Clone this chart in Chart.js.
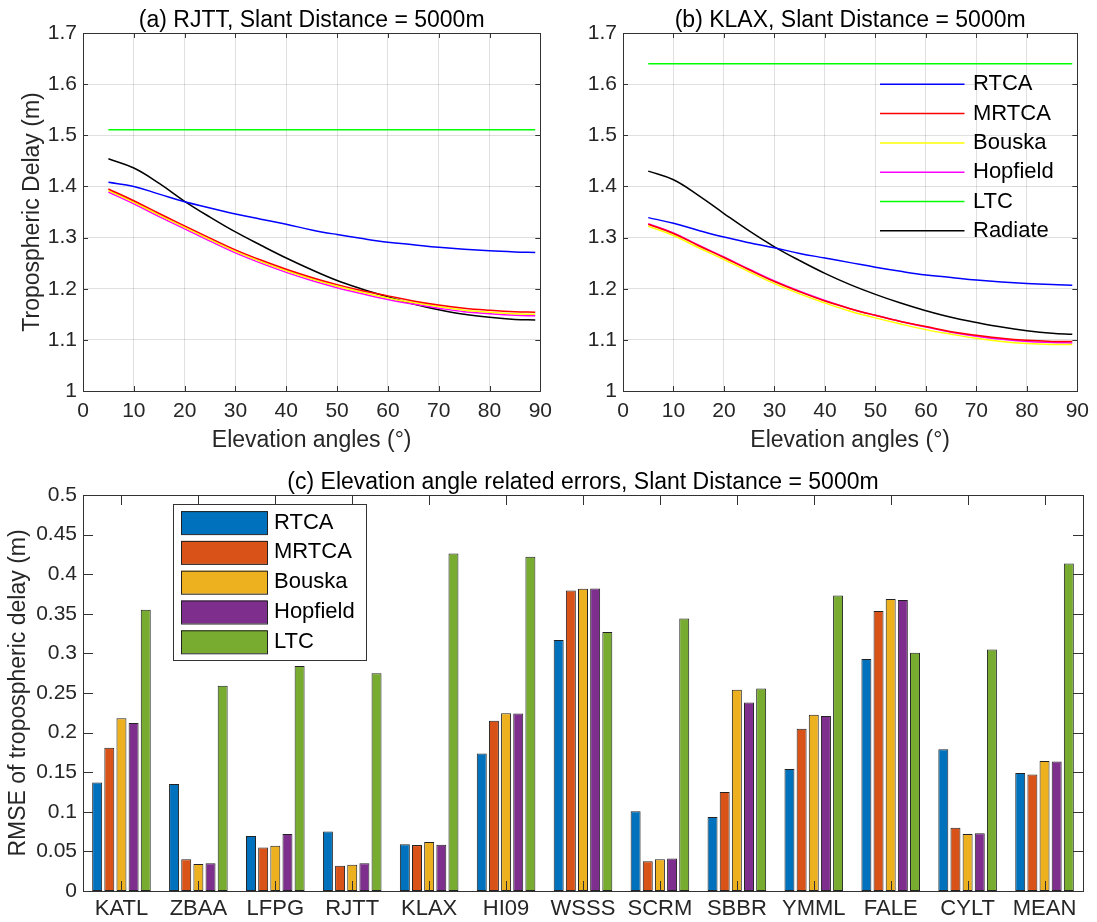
<!DOCTYPE html>
<html>
<head>
<meta charset="utf-8">
<script src="https://cdn.jsdelivr.net/npm/chart.js@4.4.1/dist/chart.umd.min.js"></script>
<style>
  html, body { margin: 0; padding: 0; background: #fff; }
  body { width: 1097px; height: 922px; position: relative; overflow: hidden; }
  canvas { position: absolute; }
</style>
</head>
<body>
<canvas id="chartA" width="560" height="460" style="left:0;top:0;width:560px;height:460px"></canvas>
<canvas id="chartB" width="537" height="460" style="left:560px;top:0;width:537px;height:460px"></canvas>
<canvas id="chartC" width="1097" height="462" style="left:0;top:460px;width:1097px;height:462px"></canvas>
<script>
// elevation angles (deg)
const elev = [5, 10, 15, 20, 25, 30, 35, 40, 45, 50, 55, 60, 65, 70, 75, 80, 85, 89];

// (a) RJTT tropospheric delay (m)
const rtcaA     = [1.408, 1.400, 1.385, 1.370, 1.358, 1.346, 1.336, 1.326, 1.315, 1.306, 1.298, 1.291, 1.286, 1.281, 1.277, 1.274, 1.272, 1.271];
const mrtcaA    = [1.395, 1.372, 1.347, 1.323, 1.299, 1.276, 1.256, 1.238, 1.222, 1.208, 1.196, 1.186, 1.176, 1.168, 1.162, 1.158, 1.155, 1.154];
const bouskaA   = [1.392, 1.369, 1.344, 1.320, 1.296, 1.273, 1.253, 1.235, 1.219, 1.205, 1.193, 1.182, 1.173, 1.165, 1.158, 1.154, 1.151, 1.150];
const hopfieldA = [1.389, 1.366, 1.341, 1.317, 1.293, 1.270, 1.250, 1.232, 1.216, 1.202, 1.190, 1.179, 1.170, 1.162, 1.155, 1.151, 1.148, 1.147];
const ltcA      = [1.511, 1.511, 1.511, 1.511, 1.511, 1.511, 1.511, 1.511, 1.511, 1.511, 1.511, 1.511, 1.511, 1.511, 1.511, 1.511, 1.511, 1.511];
const radiateA  = [1.454, 1.436, 1.406, 1.371, 1.340, 1.311, 1.285, 1.260, 1.237, 1.216, 1.199, 1.184, 1.170, 1.159, 1.150, 1.144, 1.140, 1.139];

// (b) KLAX tropospheric delay (m)
const rtcaB     = [1.339, 1.328, 1.314, 1.301, 1.290, 1.280, 1.269, 1.260, 1.251, 1.242, 1.234, 1.227, 1.222, 1.217, 1.213, 1.210, 1.208, 1.207];
const mrtcaB    = [1.326, 1.308, 1.284, 1.261, 1.237, 1.214, 1.194, 1.176, 1.161, 1.148, 1.136, 1.126, 1.116, 1.109, 1.103, 1.099, 1.097, 1.097];
const bouskaB   = [1.322, 1.304, 1.280, 1.257, 1.233, 1.210, 1.190, 1.172, 1.156, 1.143, 1.131, 1.120, 1.111, 1.103, 1.097, 1.093, 1.091, 1.091];
const hopfieldB = [1.327, 1.309, 1.285, 1.262, 1.238, 1.215, 1.195, 1.177, 1.161, 1.148, 1.136, 1.125, 1.115, 1.107, 1.101, 1.097, 1.095, 1.094];
const ltcB      = [1.640, 1.640, 1.640, 1.640, 1.640, 1.640, 1.640, 1.640, 1.640, 1.640, 1.640, 1.640, 1.640, 1.640, 1.640, 1.640, 1.640, 1.640];
const radiateB  = [1.430, 1.413, 1.382, 1.347, 1.313, 1.282, 1.255, 1.230, 1.208, 1.189, 1.172, 1.157, 1.144, 1.134, 1.125, 1.118, 1.113, 1.111];

// (c) RMSE per station (m)
const stations = ['KATL', 'ZBAA', 'LFPG', 'RJTT', 'KLAX', 'HI09', 'WSSS', 'SCRM', 'SBBR', 'YMML', 'FALE', 'CYLT', 'MEAN'];
const rmseRTCA     = [0.137, 0.135, 0.0695, 0.075, 0.059, 0.1735, 0.317, 0.1007, 0.0935, 0.154, 0.293, 0.179, 0.149];
const rmseMRTCA    = [0.181, 0.040, 0.055, 0.032, 0.058, 0.215, 0.3795, 0.0375, 0.125, 0.205, 0.3534, 0.080, 0.147];
const rmseBouska   = [0.218, 0.034, 0.057, 0.033, 0.062, 0.2245, 0.3816, 0.040, 0.254, 0.2224, 0.3686, 0.072, 0.164];
const rmseHopfield = [0.212, 0.035, 0.072, 0.035, 0.0585, 0.224, 0.382, 0.041, 0.238, 0.221, 0.3673, 0.0729, 0.1634];
const rmseLTC      = [0.355, 0.259, 0.284, 0.275, 0.426, 0.422, 0.327, 0.344, 0.2557, 0.373, 0.3008, 0.305, 0.4136];

const FONT = '"Liberation Sans", Arial, Helvetica, sans-serif';
Chart.defaults.font.family = FONT;
Chart.defaults.color = '#262626';

// MATLAB-like axes box with inward tick marks
const boxPlugin = {
    id: 'matlabBox',
    afterDatasetsDraw(chart, args, opts) {
        const ctx = chart.ctx;
        const a = chart.chartArea;
        const len = opts.tickLen || 5;
        const xs = chart.scales.x, ys = chart.scales.y;
        ctx.save();
        ctx.strokeStyle = '#333';
        ctx.lineWidth = 1;
        ctx.beginPath();
        xs.ticks.forEach((t, i) => {
            const px = Math.round(xs.getPixelForTick(i)) + 0.5;
            ctx.moveTo(px, a.bottom); ctx.lineTo(px, a.bottom - len);
            ctx.moveTo(px, a.top); ctx.lineTo(px, a.top + len);
        });
        ys.ticks.forEach((t, i) => {
            const py = Math.round(ys.getPixelForTick(i)) + 0.5;
            ctx.moveTo(a.left, py); ctx.lineTo(a.left + len, py);
            ctx.moveTo(a.right, py); ctx.lineTo(a.right - len, py);
        });
        ctx.stroke();
        ctx.strokeRect(Math.round(a.left) + 0.5, Math.round(a.top) + 0.5,
            Math.round(a.right - a.left), Math.round(a.bottom - a.top));
        ctx.restore();
    }
};

// legend drawn inside the axes
const legendPlugin = {
    id: 'matlabLegend',
    afterDatasetsDraw(chart, args, o) {
        if (!o || !o.show) return;
        const ctx = chart.ctx;
        ctx.save();
        if (o.frame) {
            ctx.fillStyle = '#fff';
            ctx.fillRect(o.frame[0], o.frame[1], o.frame[2], o.frame[3]);
            ctx.strokeStyle = '#333';
            ctx.lineWidth = 1;
            ctx.strokeRect(o.frame[0] + 0.5, o.frame[1] + 0.5, o.frame[2], o.frame[3]);
        }
        ctx.font = '22px ' + FONT;
        ctx.textBaseline = 'middle';
        chart.data.datasets.forEach((ds, i) => {
            const y = o.y + i * o.dy;
            if (o.kind === 'box') {
                ctx.fillStyle = ds.backgroundColor;
                ctx.fillRect(o.x, y - o.h / 2, o.w, o.h);
                ctx.strokeStyle = '#222';
                ctx.lineWidth = 1;
                ctx.strokeRect(o.x + 0.5, y - o.h / 2 + 0.5, o.w, o.h);
            } else {
                ctx.strokeStyle = ds.borderColor;
                ctx.lineWidth = ds.borderWidth;
                ctx.beginPath();
                ctx.moveTo(o.x, y);
                ctx.lineTo(o.x + o.w, y);
                ctx.stroke();
            }
            ctx.fillStyle = '#000';
            ctx.fillText(ds.label, o.x + o.w + o.gap, y);
        });
        ctx.restore();
    }
};

Chart.register(boxPlugin, legendPlugin);

function fmt(v) { return String(+Number(v).toFixed(3)); }

function lineSets(rtca, mrtca, bouska, hopfield, ltc, radiate) {
    const mk = (label, arr, color) => ({
        label: label,
        data: elev.map((e, i) => ({ x: e, y: arr[i] })),
        borderColor: color,
        backgroundColor: color,
        borderWidth: 1.5,
        pointRadius: 0,
        fill: false,
        tension: 0.4
    });
    return [
        mk('RTCA', rtca, '#0000ff'),
        mk('MRTCA', mrtca, '#ff0000'),
        mk('Bouska', bouska, '#ffff00'),
        mk('Hopfield', hopfield, '#ff00ff'),
        mk('LTC', ltc, '#00ff00'),
        mk('Radiate', radiate, '#000000')
    ];
}

function lineOptions(title, yTitle, yWidth, padRight, legend) {
    return {
        responsive: false,
        animation: false,
        devicePixelRatio: 1,
        layout: { padding: { left: 0, top: 0, right: padRight, bottom: 0 } },
        plugins: {
            legend: { display: false },
            tooltip: { enabled: false },
            title: {
                display: true,
                text: title,
                fullSize: false,
                color: '#000',
                font: { size: 23, weight: 'normal', lineHeight: 1 },
                padding: { top: 9.5, bottom: 0.5 }
            },
            matlabBox: { tickLen: 5 },
            matlabLegend: legend
        },
        scales: {
            x: {
                type: 'linear',
                min: 0, max: 90,
                ticks: { stepSize: 10, padding: 8, font: { size: 21 }, maxRotation: 0 },
                grid: { color: 'rgba(0,0,0,0.12)', drawTicks: false },
                border: { display: false },
                title: { display: true, text: 'Elevation angles (°)', font: { size: 23 }, padding: { top: 0, bottom: 6 } },
                afterFit: s => { s.height = 69; }
            },
            y: {
                min: 1, max: 1.7,
                ticks: { stepSize: 0.1, padding: 6, font: { size: 21 }, callback: v => fmt(v) },
                grid: { color: 'rgba(0,0,0,0.12)', drawTicks: false },
                border: { display: false },
                title: { display: yTitle, text: 'Tropospheric Delay (m)', font: { size: 23 }, padding: { top: 19, bottom: 0 } },
                afterFit: s => { s.width = yWidth; }
            }
        }
    };
}

new Chart(document.getElementById('chartA'), {
    type: 'line',
    data: { datasets: lineSets(rtcaA, mrtcaA, bouskaA, hopfieldA, ltcA, radiateA) },
    options: lineOptions('(a) RJTT, Slant Distance = 5000m', true, 83, 17, { show: false })
});

new Chart(document.getElementById('chartB'), {
    type: 'line',
    data: { datasets: lineSets(rtcaB, mrtcaB, bouskaB, hopfieldB, ltcB, radiateB) },
    options: lineOptions('(b) KLAX, Slant Distance = 5000m', false, 63, 14,
        { show: true, kind: 'line', x: 320, y: 84.3, dy: 29.3, w: 84.5, gap: 8.5 })
});

new Chart(document.getElementById('chartC'), {
    type: 'bar',
    data: {
        labels: stations,
        datasets: [
            { label: 'RTCA', data: rmseRTCA, backgroundColor: '#0072BD' },
            { label: 'MRTCA', data: rmseMRTCA, backgroundColor: '#D95319' },
            { label: 'Bouska', data: rmseBouska, backgroundColor: '#EDB120' },
            { label: 'Hopfield', data: rmseHopfield, backgroundColor: '#7E2F8E' },
            { label: 'LTC', data: rmseLTC, backgroundColor: '#77AC30' }
        ].map(d => Object.assign(d, {
            borderColor: '#222',
            borderWidth: 1,
            borderSkipped: false,
            categoryPercentage: 0.79,
            barPercentage: 0.82
        }))
    },
    options: {
        responsive: false,
        animation: false,
        devicePixelRatio: 1,
        layout: { padding: { left: 0, top: 0, right: 14, bottom: 0 } },
        plugins: {
            legend: { display: false },
            tooltip: { enabled: false },
            title: {
                display: true,
                text: '(c) Elevation angle related errors, Slant Distance = 5000m',
                fullSize: false,
                color: '#000',
                font: { size: 23, weight: 'normal', lineHeight: 1 },
                padding: { top: 11.5, bottom: 0.5 }
            },
            matlabBox: { tickLen: 10 },
            matlabLegend: { show: true, kind: 'box', frame: [173, 44, 193, 156], x: 181, y: 62.6, dy: 29.8, w: 86, h: 23, gap: 7 }
        },
        scales: {
            x: {
                ticks: { padding: 5, font: { size: 22 }, maxRotation: 0, autoSkip: false },
                grid: { display: false, drawTicks: false },
                border: { display: false },
                afterFit: s => { s.height = 31; }
            },
            y: {
                min: 0, max: 0.5,
                ticks: { stepSize: 0.05, padding: 6, font: { size: 21 }, callback: v => fmt(v) },
                grid: { display: false, drawTicks: false },
                border: { display: false },
                title: { display: true, text: 'RMSE of tropospheric delay (m)', font: { size: 23 }, padding: { top: 5, bottom: 0 } },
                afterFit: s => { s.width = 83; }
            }
        }
    }
});
</script>
</body>
</html>
